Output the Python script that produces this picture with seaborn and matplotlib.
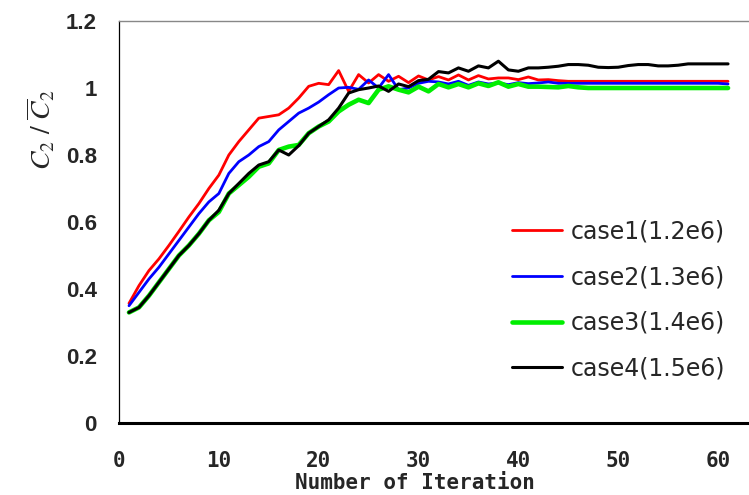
import pandas as pd
import matplotlib.pyplot as plt
import seaborn as sns

sns.set_style("white")
plt.rcParams['mathtext.fontset'] = 'stix'

iterations = list(range(1, 62))

case1 = [0.357, 0.41, 0.455, 0.49, 0.53, 0.572, 0.615, 0.655, 0.70, 0.74,
         0.80, 0.84, 0.875, 0.91, 0.915, 0.92, 0.94, 0.97, 1.005, 1.014,
         1.01, 1.052, 0.99, 1.04, 1.015, 1.04, 1.02, 1.035, 1.016, 1.036,
         1.024, 1.034, 1.024, 1.039, 1.024, 1.037, 1.027, 1.03, 1.03, 1.025,
         1.033, 1.024, 1.025, 1.022, 1.02, 1.02, 1.02, 1.02, 1.02, 1.02,
         1.02, 1.02, 1.02, 1.02, 1.02, 1.02, 1.02, 1.02, 1.02, 1.02, 1.02]
case2 = [0.35, 0.39, 0.43, 0.465, 0.505, 0.545, 0.585, 0.625, 0.66, 0.685,
         0.745, 0.78, 0.80, 0.825, 0.84, 0.875, 0.90, 0.925, 0.94, 0.958,
         0.98, 1.0, 1.002, 0.996, 1.024, 1.0, 1.04, 0.995, 1.0, 1.014,
         1.02, 1.018, 1.012, 1.02, 1.008, 1.018, 1.012, 1.015, 1.01, 1.016,
         1.013, 1.015, 1.018, 1.014, 1.014, 1.014, 1.014, 1.014, 1.014, 1.014,
         1.014, 1.014, 1.014, 1.014, 1.014, 1.014, 1.014, 1.014, 1.014, 1.014, 1.012]
case3 = [0.33, 0.345, 0.38, 0.42, 0.46, 0.50, 0.53, 0.565, 0.605, 0.63,
         0.685, 0.71, 0.735, 0.765, 0.775, 0.815, 0.825, 0.83, 0.865, 0.885,
         0.90, 0.93, 0.95, 0.965, 0.955, 0.995, 1.005, 0.995, 0.987, 1.004,
         0.99, 1.012, 1.002, 1.012, 1.002, 1.014, 1.006, 1.017, 1.004, 1.012,
         1.004, 1.004, 1.003, 1.002, 1.006, 1.002, 1.0, 1.0, 1.0, 1.0,
         1.0, 1.0, 1.0, 1.0, 1.0, 1.0, 1.0, 1.0, 1.0, 1.0, 1.0]
case4 = [0.33, 0.345, 0.38, 0.42, 0.46, 0.50, 0.53, 0.565, 0.605, 0.635,
         0.685, 0.715, 0.745, 0.77, 0.78, 0.815, 0.80, 0.828, 0.865, 0.885,
         0.905, 0.94, 0.985, 0.995, 1.0, 1.006, 0.99, 1.012, 1.004, 1.022,
         1.026, 1.049, 1.045, 1.06, 1.05, 1.066, 1.06, 1.08, 1.054, 1.05,
         1.06, 1.06, 1.062, 1.065, 1.07, 1.07, 1.068, 1.062, 1.061, 1.062,
         1.067, 1.07, 1.07, 1.066, 1.066, 1.068, 1.072, 1.072, 1.072, 1.072, 1.072]

labels = ['case1(1.2e6)', 'case2(1.3e6)', 'case3(1.4e6)', 'case4(1.5e6)']
colors = ['#ff0000', '#0000ff', '#00ee00', '#000000']
widths = [2.0, 2.0, 3.3, 2.2]

ytick_vals = [0, 0.2, 0.4, 0.6, 0.8, 1.0, 1.2]
ytick_labels = ['0', '0.2', '0.4', '0.6', '0.8', '1', '1.2']
xtick_vals = [0, 10, 20, 30, 40, 50, 60]

fig = plt.figure(figsize=(7.49, 4.95), dpi=100)
ax = fig.add_axes([119/749, 72/495, 630/749, 402/495])

for vals, lab, c, w in zip([case1, case2, case3, case4], labels, colors, widths):
    sns.lineplot(x=iterations, y=vals, color=c, lw=w, label=lab, ax=ax)

ax.set_xlim(0, 63.1)
ax.set_ylim(0, 1.2)
ax.set_xticks(xtick_vals)
ax.set_xticklabels([str(v) for v in xtick_vals], family='DejaVu Sans Mono',
                   fontweight='bold', fontsize=15)
ax.set_yticks(ytick_vals)
ax.set_yticklabels(ytick_labels, family='Liberation Sans', fontweight='bold', fontsize=16)
ax.tick_params(axis='x', direction='in', length=6, width=1.5, pad=20)
ax.tick_params(axis='y', direction='in', length=7.5, width=0.8, pad=16)

ax.spines['right'].set_visible(False)
ax.spines['top'].set_color('#888888')
ax.spines['top'].set_linewidth(1)
ax.spines['left'].set_color('black')
ax.spines['left'].set_linewidth(0.9)
ax.spines['bottom'].set_color('black')
ax.spines['bottom'].set_linewidth(2.2)

ax.set_xlabel('Number of Iteration', family='DejaVu Sans Mono', fontweight='bold', fontsize=15)
ax.xaxis.set_label_coords(0.47, -0.125)
ax.set_ylabel(r'$C_2\ /\ \overline{C}_2$', fontsize=20)
ax.yaxis.set_label_coords(-0.098, 0.73)

ax.legend(loc='center left', bbox_to_anchor=(512/749, 1 - 300/495),
          bbox_transform=fig.transFigure, frameon=False, fontsize=17,
          handlelength=2.1, handletextpad=0.4, labelspacing=0.92, borderpad=0,
          borderaxespad=0)

fig.savefig('out.png', dpi=100)
